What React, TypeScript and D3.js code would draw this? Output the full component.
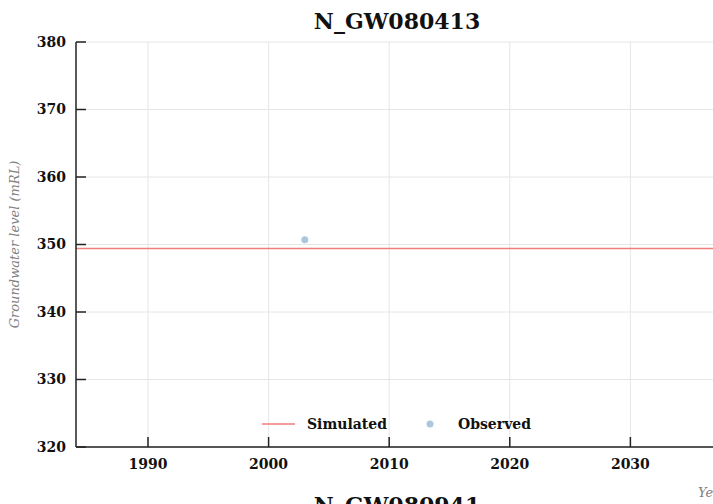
import React from "react";
import * as d3 from "d3";

// chart values
const title = "N_GW080413";
const nextTitle = "N_GW080941";
const yTicks = [320, 330, 340, 350, 360, 370, 380];
const xTicks = [1990, 2000, 2010, 2020, 2030];
const simulatedYears = [1984, 2037];
const simulatedLevels = [349.4, 349.4];
const observedYears = [2003.0];
const observedLevels = [350.7];

const width = 713;
const height = 504;
const margin = { top: 42, right: 0, bottom: 57, left: 76 };
const font = "'DejaVu Serif', serif";

const App: React.FC = () => {
  const innerWidth = width - margin.left - margin.right;
  const innerHeight = height - margin.top - margin.bottom;

  const x = d3.scaleLinear().domain([1984.03, 2036.85]).range([0, innerWidth]);
  const y = d3.scaleLinear().domain([320, 380]).range([innerHeight, 0]);

  const simLine = d3
    .line<number>()
    .x((_, i) => x(simulatedYears[i]))
    .y((d) => y(d));

  return (
    <svg
      width={width}
      height={height}
      style={{ position: "absolute", left: 0, top: 0, background: "white" }}
      fontFamily={font}
    >
      <text
        x={397}
        y={29}
        textAnchor="middle"
        fontSize={22}
        fontWeight="bold"
        fill="#111"
      >
        {title}
      </text>

      <g transform={`translate(${margin.left},${margin.top})`}>
        {/* grid */}
        {yTicks.map((t) => (
          <line
            key={`gy-${t}`}
            x1={0}
            x2={innerWidth}
            y1={y(t)}
            y2={y(t)}
            stroke="#e6e6e6"
            strokeWidth={1}
          />
        ))}
        {xTicks.map((t) => (
          <line
            key={`gx-${t}`}
            x1={x(t)}
            x2={x(t)}
            y1={0}
            y2={innerHeight}
            stroke="#e6e6e6"
            strokeWidth={1}
          />
        ))}

        {/* simulated */}
        <path
          d={simLine(simulatedLevels) ?? ""}
          fill="none"
          stroke="#f07c7c"
          strokeWidth={1.5}
        />

        {/* observed */}
        {observedYears.map((yr, i) => (
          <circle
            key={`o-${i}`}
            cx={x(yr)}
            cy={y(observedLevels[i])}
            r={3.5}
            fill="#adc6de"
          />
        ))}

        {/* axes */}
        <line x1={0} x2={0} y1={0} y2={innerHeight} stroke="#222" strokeWidth={1.5} />
        <line x1={0} x2={innerWidth} y1={innerHeight} y2={innerHeight} stroke="#222" strokeWidth={1.5} />
        {yTicks.map((t) => (
          <g key={`ty-${t}`}>
            <line x1={0} x2={10} y1={y(t)} y2={y(t)} stroke="#222" strokeWidth={1.5} />
            <text
              x={-10}
              y={y(t)}
              dy="0.35em"
              textAnchor="end"
              fontSize={14}
              fontWeight="bold"
              fill="#111"
            >
              {t}
            </text>
          </g>
        ))}
        {xTicks.map((t) => (
          <g key={`tx-${t}`}>
            <line x1={x(t)} x2={x(t)} y1={innerHeight} y2={innerHeight - 10} stroke="#222" strokeWidth={1.5} />
            <text
              x={x(t)}
              y={innerHeight + 22}
              textAnchor="middle"
              fontSize={14}
              fontWeight="bold"
              fill="#111"
            >
              {t}
            </text>
          </g>
        ))}
      </g>

      {/* legend */}
      <line x1={262} x2={295} y1={424} y2={424} stroke="#f07c7c" strokeWidth={1.5} />
      <text x={307} y={429} fontSize={14} fontWeight="bold" fill="#111">
        Simulated
      </text>
      <circle cx={430} cy={424} r={3.5} fill="#adc6de" />
      <text x={458} y={429} fontSize={14} fontWeight="bold" fill="#111">
        Observed
      </text>

      {/* axis titles */}
      <text
        transform={`translate(19,${margin.top + innerHeight / 2}) rotate(-90)`}
        textAnchor="middle"
        fontSize={13}
        fontStyle="italic"
        fill="#808080"
      >
        Groundwater level (mRL)
      </text>
      <text x={698} y={497} fontSize={13} fontStyle="italic" fill="#808080">
        Year
      </text>

      <text
        x={397}
        y={513}
        textAnchor="middle"
        fontSize={22}
        fontWeight="bold"
        fill="#111"
      >
        {nextTitle}
      </text>
    </svg>
  );
};

export default App;
